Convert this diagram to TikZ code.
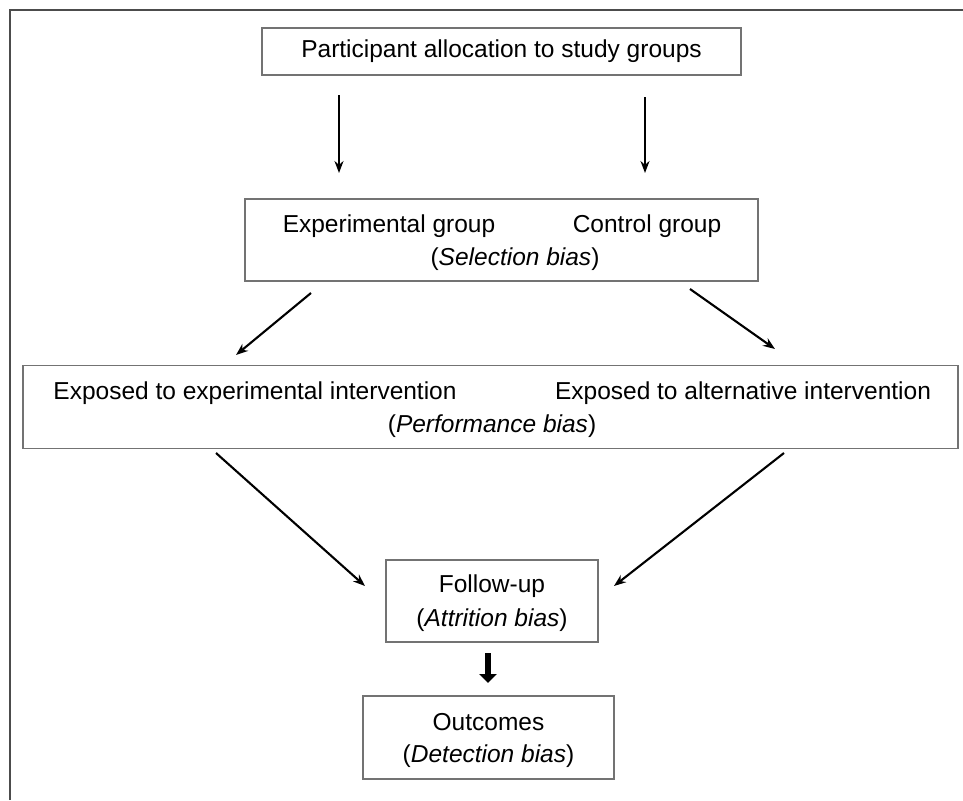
\documentclass[tikz,border=0pt]{standalone}
\usepackage{fontspec}
\setmainfont{Liberation Sans}
\usetikzlibrary{arrows.meta}
\begin{document}
\begin{tikzpicture}[x=1pt,y=-1pt,
  box/.style={draw=black!55, line width=1.8pt, rectangle, inner sep=0pt},
  txt/.style={inner sep=0pt, font=\fontsize{24.5}{29}\selectfont},
  arr/.style={line width=2.1pt, -{Stealth[length=12pt,width=9pt]}},
  thickarr/.style={line width=6.5pt, -{Triangle[length=9pt,width=17pt]}}]
\useasboundingbox (0,0) rectangle (963,800);
\fill[white] (0,0) rectangle (963,800);
% frame
\draw[black!70, line width=2pt] (10,800) -- (10,10) -- (963,10);
% boxes
\node[box, minimum width=479pt, minimum height=47pt] (top) at (501.5,51.5) {};
\node[box, minimum width=513pt, minimum height=82pt] (grp) at (501.5,240) {};
\node[box, minimum width=935pt, minimum height=83pt] (exp) at (490.5,407) {};
\node[box, minimum width=212pt, minimum height=82pt] (fol) at (492,601) {};
\node[box, minimum width=251pt, minimum height=83pt] (out) at (488.5,737.5) {};
% texts
\node[txt] (ttop) at (501.5,51.5) {Participant allocation to study groups};
\node[txt] (texpg) at (389,226) {Experimental group};
\node[txt] (tctl) at (647,226) {Control group};
\node[txt] (tsel) at (515,259) {(\textit{Selection bias})};
\node[txt] (texi) at (255,393) {Exposed to experimental intervention};
\node[txt] (talt) at (743,393) {Exposed to alternative intervention};
\node[txt] (tperf) at (492,426) {(\textit{Performance bias})};
\node[txt] (tfol) at (492,586) {Follow-up};
\node[txt] (tatt) at (492,620) {(\textit{Attrition bias})};
\node[txt] (tout) at (488.5,722) {Outcomes};
\node[txt] (tdet) at (488.5,756) {(\textit{Detection bias})};
% arrow end points
\coordinate (a1s) at (339,95);  \coordinate (a1e) at (339,173);
\coordinate (a2s) at (645,97);  \coordinate (a2e) at (645,173);
\coordinate (a3s) at (311,293); \coordinate (a3e) at (236,355);
\coordinate (a4s) at (690,289); \coordinate (a4e) at (775,349);
\coordinate (a5s) at (216,453); \coordinate (a5e) at (365,586);
\coordinate (a6s) at (784,453); \coordinate (a6e) at (614,586);
\coordinate (a7s) at (488,653); \coordinate (a7e) at (488,683);
\draw[arr] (a1s) -- (a1e);
\draw[arr] (a2s) -- (a2e);
\draw[arr] (a3s) -- (a3e);
\draw[arr] (a4s) -- (a4e);
\draw[arr] (a5s) -- (a5e);
\draw[arr] (a6s) -- (a6e);
\draw[thickarr] (a7s) -- (a7e);
\end{tikzpicture}
\end{document}
